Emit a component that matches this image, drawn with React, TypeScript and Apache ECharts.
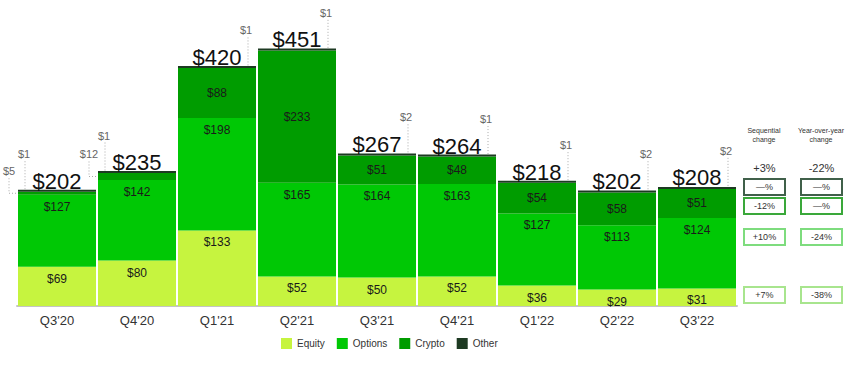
import React, { useEffect, useRef } from "react";
import * as echarts from "echarts";

const categories = ["Q3'20", "Q4'20", "Q1'21", "Q2'21", "Q3'21", "Q4'21", "Q1'22", "Q2'22", "Q3'22"];
const equity = [69, 80, 133, 52, 50, 52, 36, 29, 31];
const options = [127, 142, 198, 165, 164, 163, 127, 113, 124];
const crypto = [5, 12, 88, 233, 51, 48, 54, 58, 51];
const other = [1, 1, 1, 1, 2, 1, 1, 2, 2];
const totals = [202, 235, 420, 451, 267, 264, 218, 202, 208];

const seqChange = ["+3%", "—%", "-12%", "+10%", "+7%"];
const yoyChange = ["-22%", "—%", "—%", "-24%", "-38%"];

const COLORS = {
  equity: "#c6f43f",
  options: "#00c805",
  crypto: "#009c00",
  other: "#1d3a22",
};
const FONT = '"Liberation Sans", Arial, sans-serif';

export default function App() {
  const ref = useRef<HTMLDivElement>(null);
  useEffect(() => {
    if (!ref.current) return;
    const chart = echarts.init(ref.current, undefined, { renderer: "svg" });

    const labelStyle = {
      fontSize: 12,
      color: "#1a1a1a",
      fontFamily: FONT,
      formatter: (p: any) => "$" + p.value,
    };

    const customData = categories.map((_, i) => [i, totals[i], other[i], crypto[i]]);

    const boxRows = [
      { y: 168, border: null },
      { y: 187, border: "#40604a" },
      { y: 206, border: "#3aa83a" },
      { y: 237, border: "#7edc7e" },
      { y: 295, border: "#a8e58e" },
    ];
    const graphics: any[] = [];
    const cols = [
      { cx: 764, vals: seqChange, head: ["Sequential", "change"] },
      { cx: 821, vals: yoyChange, head: ["Year-over-year", "change"] },
    ];
    cols.forEach((c) => {
      graphics.push({
        type: "text",
        style: {
          text: c.head.join("\n"),
          x: c.cx,
          y: 135,
          align: "center",
          verticalAlign: "middle",
          font: "7px " + FONT,
          fill: "#333",
          lineHeight: 9,
        },
      });
      boxRows.forEach((r, k) => {
        if (r.border) {
          graphics.push({
            type: "rect",
            shape: { x: c.cx - 20, y: r.y - 8, width: 41, height: 16 },
            style: { fill: "#fff", stroke: r.border, lineWidth: 2 },
          });
        }
        graphics.push({
          type: "text",
          style: {
            text: c.vals[k],
            x: c.cx + 0.5,
            y: r.y,
            align: "center",
            verticalAlign: "middle",
            font: (k === 0 ? "11px " : "9px ") + FONT,
            fill: "#333",
          },
        });
      });
    });

    const dash = { stroke: "#aaa", lineWidth: 1, lineDash: [1, 2] };

    chart.setOption({
      animation: false,
      grid: { left: 17, right: 113, top: 22, bottom: 69 },
      legend: {
        data: ["Equity", "Options", "Crypto", "Other"],
        left: 276,
        top: 333,
        icon: "rect",
        itemWidth: 11,
        itemHeight: 11,
        itemGap: 12,
        textStyle: { fontSize: 10, color: "#333", fontFamily: FONT },
      },
      xAxis: {
        type: "category",
        data: categories,
        axisLine: { lineStyle: { color: "#c4c4c4", width: 2 } },
        axisTick: { show: false },
        axisLabel: { fontSize: 13, color: "#333", fontFamily: FONT, margin: 8 },
      },
      yAxis: { type: "value", min: 0, max: 500, show: false, splitLine: { show: false } },
      graphic: graphics,
      series: [
        {
          name: "Equity",
          type: "bar",
          stack: "t",
          data: equity,
          barCategoryGap: "2.5%",
          itemStyle: { color: COLORS.equity },
          label: { show: true, position: "insideTop", distance: 6, ...labelStyle },
        },
        {
          name: "Options",
          type: "bar",
          stack: "t",
          data: options,
          itemStyle: { color: COLORS.options },
          label: { show: true, position: "insideTop", distance: 6, ...labelStyle },
        },
        {
          name: "Crypto",
          type: "bar",
          stack: "t",
          data: crypto,
          itemStyle: { color: COLORS.crypto },
          label: {
            show: true,
            position: "inside",
            ...labelStyle,
            formatter: (p: any) => (p.value < 20 ? "" : "$" + p.value),
          },
        },
        {
          name: "Other",
          type: "bar",
          stack: "t",
          data: other,
          barMinHeight: 2,
          itemStyle: { color: COLORS.other },
        },
        {
          type: "custom",
          silent: true,
          z: 10,
          data: customData,
          encode: { x: 0, y: 1 },
          renderItem: (params: any, api: any) => {
            const i = api.value(0);
            const total = api.value(1);
            const oth = api.value(2);
            const cr = api.value(3);
            const pt = api.coord([i, total]);
            const cx = pt[0];
            const top = pt[1];
            const band = api.size([1, 0])[0];
            const half = (band * 0.975) / 2;
            const left = cx - half;
            const right = cx + half;
            const children: any[] = [];
            children.push({
              type: "text",
              style: {
                text: "$" + total,
                x: cx,
                y: top - 10,
                align: "center",
                verticalAlign: "middle",
                font: "22px " + FONT,
                fill: "#111",
              },
            });
            const leftSide = cr < 20;
            const tx = leftSide ? left + 6 : right - 10;
            const lx = leftSide ? left + 7 : right - 8;
            const ly = top - 37;
            children.push({
              type: "text",
              style: {
                text: "$" + oth,
                x: tx,
                y: ly,
                align: "center",
                verticalAlign: "middle",
                font: "11px " + FONT,
                fill: "#666",
              },
            });
            children.push({
              type: "line",
              shape: { x1: lx, y1: ly + 7, x2: lx, y2: top },
              style: dash,
            });
            if (leftSide) {
              const mid = api.coord([i, total - oth - cr / 2])[1];
              const ex = left - 9;
              children.push({
                type: "text",
                style: {
                  text: "$" + cr,
                  x: ex,
                  y: mid - 22,
                  align: "center",
                  verticalAlign: "middle",
                  font: "11px " + FONT,
                  fill: "#666",
                },
              });
              children.push({
                type: "polyline",
                shape: { points: [[ex, mid - 15], [ex, mid], [left, mid]] },
                style: { ...dash, fill: "none" },
              });
            }
            return { type: "group", children };
          },
        },
      ],
    });
    return () => chart.dispose();
  }, []);
  return (
    <div
      ref={ref}
      style={{ position: "fixed", left: 0, top: 0, width: 850, height: 375, background: "#fff" }}
    />
  );
}
